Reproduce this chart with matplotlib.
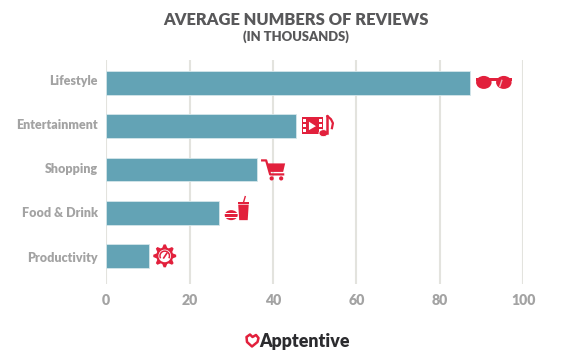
import matplotlib
matplotlib.use('Agg')
import matplotlib.pyplot as plt
from matplotlib.patches import Circle, Ellipse, Polygon, Rectangle, Wedge, PathPatch
from matplotlib.path import Path
from matplotlib.transforms import ScaledTranslation
import numpy as np

categories = ['Lifestyle', 'Entertainment', 'Shopping', 'Food & Drink', 'Productivity']
reviews = [87.2, 45.5, 36.2, 27.1, 10.2]
ticks = [0, 20, 40, 60, 80, 100]

W, H = 588, 361
TEAL = '#63a3b5'
RED = '#e2203c'
GREY = '#a3a3a3'
plt.rcParams['font.family'] = ['Lato', 'DejaVu Sans']

fig = plt.figure(figsize=(W / 100, H / 100), dpi=100, facecolor='white')

# main axes, placed in pixels
left, right, top, bottom = 106.2, 523.2, 60, 284
ax = fig.add_axes([left / W, 1 - bottom / H, (right - left) / W, (bottom - top) / H])
y = np.arange(len(categories))
ax.barh(y, reviews, height=0.55, color=TEAL, edgecolor='#d5e6ea', linewidth=0.6, zorder=3)
ax.set_xlim(0, 100)
ax.set_ylim(4.65, -0.53)
ax.set_xticks(ticks)
ax.set_yticks(y, categories)
ax.grid(axis='x', color='#e3e3de', linewidth=1.5, zorder=0)
ax.tick_params(length=0)
ax.tick_params(axis='x', pad=7, labelsize=10.2, labelcolor=GREY)
ax.tick_params(axis='y', pad=6, labelsize=9, labelcolor=GREY)
for lab in ax.get_xticklabels():
    lab.set_fontweight('heavy')
# labels drift a little against the bars in the original
for lab, px in zip(ax.get_yticklabels(), [3, 2, 1.5, 1, -1]):
    lab.set_fontweight('heavy')
    lab.set_transform(lab.get_transform() + ScaledTranslation(0, px / 100, fig.dpi_scale_trans))
for s in ax.spines.values():
    s.set_visible(False)

fig.text(295.5 / W, 1 - 20 / H, 'AVERAGE NUMBERS OF REVIEWS', ha='center', va='center',
         fontsize=11.9, fontweight='heavy', color='#58585a')
fig.text(295.5 / W, 1 - 37 / H, '(IN THOUSANDS)', ha='center', va='center',
         fontsize=9.4, fontweight='heavy', color='#58585a')

# overlay in pixel coordinates for icons and logo
ov = fig.add_axes([0, 0, 1, 1], zorder=5)
ov.set_xlim(0, W)
ov.set_ylim(H, 0)
ov.axis('off')


def bar_px(i):
    xd, yd = ax.transData.transform((reviews[i], y[i]))
    return xd, H - yd


def glasses(cx, cy):
    ov.add_patch(Rectangle((cx - 18, cy - 5), 36, 3.5, fc=RED, ec='none'))
    for sx in (-1, 1):
        ov.add_patch(Ellipse((cx + sx * 10, cy - 0.5), 15.5, 13, fc=RED, ec='none'))
    ov.plot([cx + 6, cx + 8], [cy + 3.5, cy - 2.5], color='#f3b0ba', lw=1)


def film(cx, cy):
    ov.add_patch(Rectangle((cx - 15, cy - 9), 21.5, 17, fc=RED, ec='none'))
    for yy in (-7, -2.2, 2.6):
        ov.add_patch(Rectangle((cx - 13.5, cy + yy), 2.4, 3, fc='white', ec='none'))
        ov.add_patch(Rectangle((cx + 2.3, cy + yy), 2.4, 3, fc='white', ec='none'))
    ov.add_patch(Polygon([(cx - 8, cy - 4.5), (cx - 8, cy + 4), (cx - 1, cy)], fc='white', ec='none'))
    ov.add_patch(Ellipse((cx + 6.5, cy + 7), 9, 7, fc=RED, ec='white', lw=0.6))
    ov.plot([cx + 10.5, cx + 10.5], [cy + 7, cy - 10], color=RED, lw=1.8)
    ov.plot([cx + 10.5, cx + 14, cx + 16, cx + 15], [cy - 10, cy - 7, cy - 3, cy + 2], color=RED, lw=1.6)


def cart(cx, cy):
    ov.plot([cx - 11, cx - 7, cx - 3, cx + 10], [cy - 9, cy - 9, cy + 5, cy + 5], color=RED, lw=1.6)
    ov.add_patch(Polygon([(cx - 6, cy - 6), (cx + 12, cy - 6), (cx + 10, cy + 2.5), (cx - 3.5, cy + 2.5)],
                         fc=RED, ec='none'))
    ov.add_patch(Circle((cx - 1.5, cy + 9), 2.1, fc=RED, ec='none'))
    ov.add_patch(Circle((cx + 8, cy + 9), 2.1, fc=RED, ec='none'))


def food(cx, cy):
    # burger
    ov.add_patch(Ellipse((cx - 3.5, cy + 2.5), 13, 10, fc=RED, ec='none'))
    for yy in (0.5, 4):
        ov.add_patch(Rectangle((cx - 11, cy + yy), 15, 1.1, fc='white', ec='none'))
    # cup
    ov.add_patch(Polygon([(cx + 3.5, cy - 8), (cx + 14, cy - 8), (cx + 13, cy + 7.5), (cx + 4.5, cy + 7.5)],
                         fc=RED, ec='none'))
    ov.add_patch(Rectangle((cx + 3, cy - 11), 11.5, 2.2, fc=RED, ec='none'))
    ov.plot([cx + 9, cx + 10.5], [cy - 11, cy - 16], color=RED, lw=1)


def gear(cx, cy):
    n = 8
    pts = []
    for k in range(n * 4):
        a = 2 * np.pi * (k - 0.5) / (n * 4)
        r = 11.5 if k % 4 in (0, 1) else 8.5
        pts.append((cx + r * np.cos(a), cy + r * np.sin(a)))
    ov.add_patch(Polygon(pts, closed=True, fc=RED, ec='none'))
    ov.add_patch(Circle((cx, cy), 6.3, fc='white', ec='none'))
    ov.add_patch(Wedge((cx, cy), 5.5, 150, 390, width=1.5, fc=RED, ec='none'))
    ov.plot([cx - 1, cx + 2], [cy + 2, cy - 2.5], color=RED, lw=1.2)


icons = [(glasses, 24), (film, 21), (cart, 16), (food, 15.5), (gear, 16)]
for i, (fn, off) in enumerate(icons):
    xb, yb = bar_px(i)
    fn(xb + off, yb)

# logo
heart = Path([(252, 346.5), (247, 342), (246.5, 337), (250, 334.5), (252.5, 337), (256, 335), (258.5, 338), (257.5, 342), (252, 346.5)],
             [Path.MOVETO] + [Path.LINETO] * 7 + [Path.CLOSEPOLY])
ov.add_patch(PathPatch(heart, fc='none', ec=RED, lw=1.8, joinstyle='round'))
fig.text(304.5 / W, 1 - 341 / H, 'Apptentive', ha='center', va='center', fontsize=12.8,
         fontweight='heavy', color='#2b2b2e')

fig.savefig('out.png', dpi=100)
